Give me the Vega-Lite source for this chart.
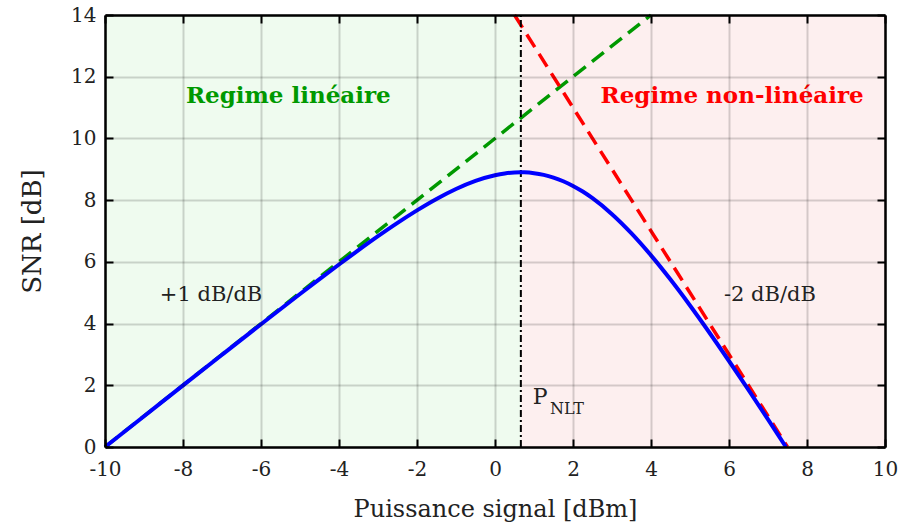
{
  "$schema": "https://vega.github.io/schema/vega-lite/v6.json",
  "width": 780,
  "height": 432,
  "autosize": {"type": "none"},
  "padding": {"left": 105, "top": 15, "right": 14, "bottom": 80},
  "background": "white",
  "config": {"view": {"stroke": null}, "font": "DejaVu Serif"},
  "datasets": {
    "regions": [
      {"region": "lin", "x0": -10, "x1": 0.663, "y0": 0, "y1": 14},
      {"region": "nl", "x0": 0.663, "x1": 10, "y0": 0, "y1": 14}
    ],
    "curve": [
      {"x": -10, "y": 0}, {"x": -9, "y": 0.997}, {"x": -8, "y": 1.995}, {"x": -7, "y": 2.989},
      {"x": -6, "y": 3.978}, {"x": -5, "y": 4.957}, {"x": -4.5, "y": 5.439}, {"x": -4, "y": 5.914},
      {"x": -3.5, "y": 6.379}, {"x": -3, "y": 6.831}, {"x": -2.5, "y": 7.263}, {"x": -2, "y": 7.668},
      {"x": -1.5, "y": 8.038}, {"x": -1, "y": 8.361}, {"x": -0.5, "y": 8.623}, {"x": 0, "y": 8.807},
      {"x": 0.25, "y": 8.864}, {"x": 0.5, "y": 8.896}, {"x": 0.66, "y": 8.902}, {"x": 0.75, "y": 8.9},
      {"x": 1, "y": 8.875}, {"x": 1.25, "y": 8.82}, {"x": 1.5, "y": 8.732}, {"x": 1.75, "y": 8.613},
      {"x": 2, "y": 8.461}, {"x": 2.25, "y": 8.278}, {"x": 2.5, "y": 8.062}, {"x": 3, "y": 7.545},
      {"x": 3.5, "y": 6.922}, {"x": 4, "y": 6.21}, {"x": 4.5, "y": 5.426}, {"x": 5, "y": 4.586},
      {"x": 5.5, "y": 3.703}, {"x": 6, "y": 2.787}, {"x": 6.5, "y": 1.848}, {"x": 7, "y": 0.892},
      {"x": 7.25, "y": 0.409}, {"x": 7.46, "y": 0}
    ],
    "lin": [{"x": -10, "y": 0}, {"x": 4, "y": 14}],
    "nl": [{"x": 0.5, "y": 14}, {"x": 7.5, "y": 0}],
    "vline": [{"x": 0.663, "y": 0, "y2": 14}],
    "greenlab": [{"x": -5.3, "y": 11.37, "text": "Regime linéaire"}],
    "redlab": [{"x": 6.08, "y": 11.37, "text": "Regime non-linéaire"}],
    "blacklab": [{"x": -7.28, "y": 4.93, "text": "+1 dB/dB"}, {"x": 7.05, "y": 4.93, "text": "-2 dB/dB"}],
    "plab": [{"x": 0.97, "y": 1.62, "text": "P"}],
    "sublab": [{"x": 1.41, "y": 1.22, "text": "NLT"}]
  },
  "layer": [
    {
      "data": {"name": "regions"},
      "mark": {"type": "rect"},
      "encoding": {
        "x": {"field": "x0", "type": "quantitative", "scale": {"domain": [-10, 10], "nice": false},
          "axis": {"orient": "bottom", "values": [-10, -8, -6, -4, -2, 0, 2, 4, 6, 8, 10], "title": "Puissance signal [dBm]",
            "labelExpr": "toString(datum.value)",
            "zindex": 1, "grid": true, "gridColor": "#000000", "gridOpacity": 0.16, "gridWidth": 2,
            "domainColor": "#000000", "domainWidth": 2.5, "tickColor": "#000000", "tickWidth": 2, "tickSize": -8,
            "labelPadding": 20, "labelFontSize": 20, "labelColor": "#222222", "labelFont": "DejaVu Serif",
            "labelFlush": false, "labelOverlap": false,
            "titleFontSize": 24, "titleFontWeight": "normal", "titleColor": "#222222", "titleFont": "DejaVu Serif", "titlePadding": 18}},
        "x2": {"field": "x1"},
        "y": {"field": "y0", "type": "quantitative", "scale": {"domain": [0, 14], "nice": false},
          "axis": {"orient": "left", "values": [0, 2, 4, 6, 8, 10, 12, 14], "title": "SNR [dB]",
            "zindex": 1, "grid": true, "gridColor": "#000000", "gridOpacity": 0.16, "gridWidth": 2,
            "domainColor": "#000000", "domainWidth": 2.5, "tickColor": "#000000", "tickWidth": 2, "tickSize": -8,
            "labelPadding": 17, "labelFontSize": 20, "labelColor": "#222222", "labelFont": "DejaVu Serif",
            "labelFlush": false, "labelOverlap": false,
            "titleFontSize": 26, "titleFontWeight": "normal", "titleColor": "#222222", "titleFont": "DejaVu Serif", "titlePadding": 25}},
        "y2": {"field": "y1"},
        "color": {"field": "region", "type": "nominal", "scale": {"domain": ["lin", "nl"], "range": ["#effbef", "#fdefef"]}, "legend": null}
      }
    },
    {
      "data": {"name": "lin"},
      "mark": {"type": "line", "color": "#009900", "strokeWidth": 3.5, "strokeDash": [15, 8]},
      "encoding": {
        "x": {"field": "x", "type": "quantitative",
          "axis": {"orient": "top", "values": [-10, -8, -6, -4, -2, 0, 2, 4, 6, 8, 10], "labels": false, "title": null, "grid": false, "zindex": 1,
            "domainColor": "#000000", "domainWidth": 2.5, "tickColor": "#000000", "tickWidth": 2, "tickSize": -8}},
        "y": {"field": "y", "type": "quantitative",
          "axis": {"orient": "right", "values": [0, 2, 4, 6, 8, 10, 12, 14], "labels": false, "title": null, "grid": false, "zindex": 1,
            "domainColor": "#000000", "domainWidth": 2.5, "tickColor": "#000000", "tickWidth": 2, "tickSize": -8}}
      }
    },
    {
      "data": {"name": "nl"},
      "mark": {"type": "line", "color": "#ff0000", "strokeWidth": 3.5, "strokeDash": [15, 8]},
      "encoding": {
        "x": {"field": "x", "type": "quantitative", "axis": null},
        "y": {"field": "y", "type": "quantitative", "axis": null}
      }
    },
    {
      "data": {"name": "vline"},
      "mark": {"type": "rule", "color": "#000000", "strokeWidth": 2, "strokeDash": [7, 3, 2, 3]},
      "encoding": {
        "x": {"field": "x", "type": "quantitative", "axis": null},
        "y": {"field": "y", "type": "quantitative", "axis": null},
        "y2": {"field": "y2"}
      }
    },
    {
      "data": {"name": "curve"},
      "mark": {"type": "line", "color": "#0000ff", "strokeWidth": 4, "interpolate": "monotone"},
      "encoding": {
        "x": {"field": "x", "type": "quantitative", "axis": null},
        "y": {"field": "y", "type": "quantitative", "axis": null}
      }
    },
    {
      "data": {"name": "greenlab"},
      "mark": {"type": "text", "color": "#009900", "fontWeight": "bold", "fontSize": 23, "font": "DejaVu Serif", "align": "center", "baseline": "middle"},
      "encoding": {
        "x": {"field": "x", "type": "quantitative", "axis": null},
        "y": {"field": "y", "type": "quantitative", "axis": null},
        "text": {"field": "text"}
      }
    },
    {
      "data": {"name": "redlab"},
      "mark": {"type": "text", "color": "#ff0000", "fontWeight": "bold", "fontSize": 23, "font": "DejaVu Serif", "align": "center", "baseline": "middle"},
      "encoding": {
        "x": {"field": "x", "type": "quantitative", "axis": null},
        "y": {"field": "y", "type": "quantitative", "axis": null},
        "text": {"field": "text"}
      }
    },
    {
      "data": {"name": "blacklab"},
      "mark": {"type": "text", "color": "#222222", "fontSize": 21, "font": "DejaVu Serif", "align": "center", "baseline": "middle"},
      "encoding": {
        "x": {"field": "x", "type": "quantitative", "axis": null},
        "y": {"field": "y", "type": "quantitative", "axis": null},
        "text": {"field": "text"}
      }
    },
    {
      "data": {"name": "plab"},
      "mark": {"type": "text", "color": "#222222", "fontSize": 22, "font": "DejaVu Serif", "align": "left", "baseline": "middle"},
      "encoding": {
        "x": {"field": "x", "type": "quantitative", "axis": null},
        "y": {"field": "y", "type": "quantitative", "axis": null},
        "text": {"field": "text"}
      }
    },
    {
      "data": {"name": "sublab"},
      "mark": {"type": "text", "color": "#222222", "fontSize": 16, "font": "DejaVu Serif", "align": "left", "baseline": "middle"},
      "encoding": {
        "x": {"field": "x", "type": "quantitative", "axis": null},
        "y": {"field": "y", "type": "quantitative", "axis": null},
        "text": {"field": "text"}
      }
    }
  ],
  "resolve": {"axis": {"x": "independent", "y": "independent"}}
}
